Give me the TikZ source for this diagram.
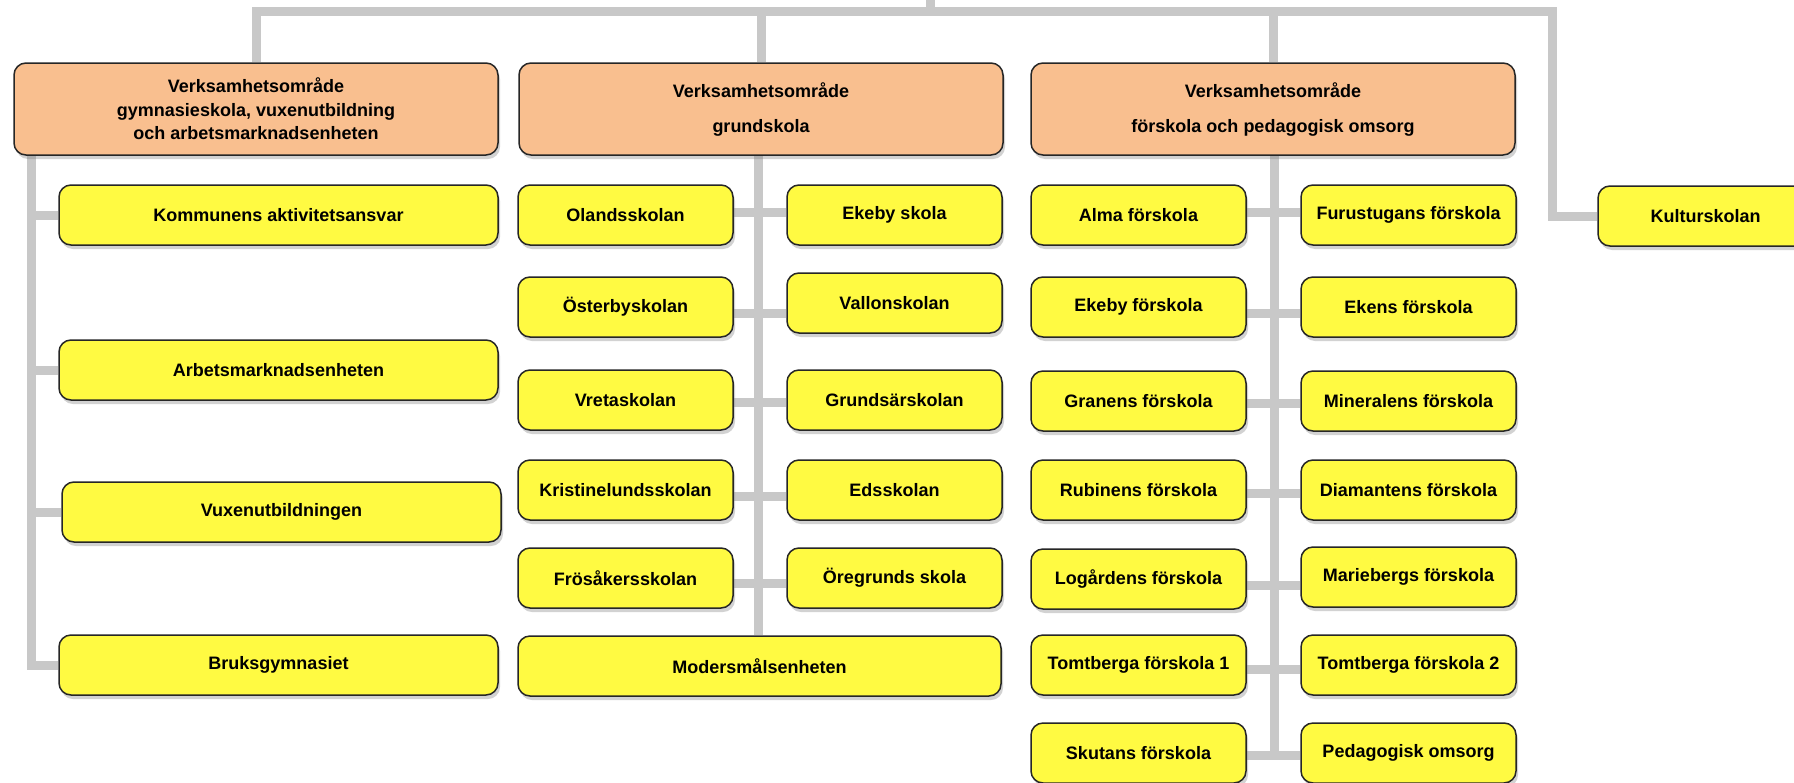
\documentclass[tikz,border=0pt]{standalone}
\usepackage{fontspec}
\setmainfont{Liberation Sans}
\usetikzlibrary{shadows,backgrounds}

\definecolor{areaorange}{RGB}{249,191,143}
\definecolor{unityellow}{RGB}{255,250,66}
\definecolor{linkgray}{RGB}{200,200,200}

\tikzset{
    box/.style={draw=black!85, line width=1.5pt, rounded corners=12pt,
        inner sep=0pt, align=center,
        font=\fontsize{18}{23.5}\selectfont\bfseries,
        drop shadow={shadow xshift=2pt, shadow yshift=-4pt, opacity=0.35}},
    area/.style={box, fill=areaorange, minimum width=484pt, minimum height=92pt},
    unit/.style={box, fill=unityellow, minimum width=215pt, minimum height=60pt},
    wideunit/.style={unit, minimum width=439pt},
    link/.style={draw=linkgray, line width=9pt}
}

\begin{document}
\begin{tikzpicture}[x=1pt, y=-1pt]
            \useasboundingbox (0,0) rectangle (1794,782);

            % verksamhetsomraden
            \node[area] (areaA) at (256,109) {Verksamhetsområde\\
                gymnasieskola, vuxenutbildning\\
                och arbetsmarknadsenheten};
            \node[area] (areaB) at (761,109) {Verksamhetsområde\\[11.5pt] grundskola};
            \node[area] (areaC) at (1273,109) {Verksamhetsområde\\[11.5pt] förskola och pedagogisk omsorg};

            % gymnasieskola, vuxenutbildning
            \node[wideunit] (kommun) at (278.5,215) {Kommunens aktivitetsansvar};
            \node[wideunit] (arbets) at (278.5,370) {Arbetsmarknadsenheten};
            \node[wideunit] (vuxen) at (281.5,512) {Vuxenutbildningen};
            \node[wideunit] (bruks) at (278.5,665) {Bruksgymnasiet};

            % grundskola
            \node[unit] (olands) at (625.5,215) {Olandsskolan};
            \node[unit] (ekebysk) at (894.5,215) {Ekeby skola};
            \node[unit] (oster) at (625.5,307) {Österbyskolan};
            \node[unit] (vallon) at (894.5,303) {Vallonskolan};
            \node[unit] (vreta) at (625.5,400) {Vretaskolan};
            \node[unit] (grundsar) at (894.5,400) {Grundsärskolan};
            \node[unit] (kristine) at (625.5,490) {Kristinelundsskolan};
            \node[unit] (eds) at (894.5,490) {Edsskolan};
            \node[unit] (frosaker) at (625.5,578) {Frösåkersskolan};
            \node[unit] (oregrund) at (894.5,578) {Öregrunds skola};
            \node[unit, minimum width=483pt] (modersmal) at (759.5,666) {Modersmålsenheten};

            % forskola
            \node[unit] (alma) at (1138.5,215) {Alma förskola};
            \node[unit] (furu) at (1408.5,215) {Furustugans förskola};
            \node[unit] (ekebyf) at (1138.5,307) {Ekeby förskola};
            \node[unit] (ekens) at (1408.5,307) {Ekens förskola};
            \node[unit] (granens) at (1138.5,401) {Granens förskola};
            \node[unit] (mineral) at (1408.5,401) {Mineralens förskola};
            \node[unit] (rubin) at (1138.5,490) {Rubinens förskola};
            \node[unit] (diamant) at (1408.5,490) {Diamantens förskola};
            \node[unit] (logard) at (1138.5,579) {Logårdens förskola};
            \node[unit] (marie) at (1408.5,577) {Mariebergs förskola};
            \node[unit] (tomt1) at (1138.5,665) {Tomtberga förskola 1};
            \node[unit] (tomt2) at (1408.5,665) {Tomtberga förskola 2};
            \node[unit] (skutan) at (1138.5,753) {Skutans förskola};
            \node[unit] (pedag) at (1408.5,753) {Pedagogisk omsorg};

            \node[unit] (kultur) at (1705.5,216) {Kulturskolan};

            \coordinate (top) at (930,0);
            \coordinate (bar) at (930,11.5);
            \coordinate (kbend) at (1552,11.5);
            \coordinate (lspine) at (31,155);
            \coordinate (mspine) at (758,155);
            \coordinate (rspine) at (1274,155);

            \begin{scope}[on background layer]
                \fill[white] (0,0) rectangle (1794,782);
                % top bar
                \draw[link] (top) -- (bar);
                \draw[link] (areaA.north) |- (kbend) -- (kultur.west -| kbend) -- (kultur.west);
                \draw[link] (areaB.north) -- (areaB.north |- bar);
                \draw[link] (areaC.north) -- (areaC.north |- bar);
                % left
                \draw[link] (lspine) |- (bruks.west);
                \draw[link] (lspine |- kommun.west) -- (kommun.west);
                \draw[link] (lspine |- arbets.west) -- (arbets.west);
                \draw[link] (lspine |- vuxen.west) -- (vuxen.west);
                % middle
                \draw[link] (mspine) -- (mspine |- modersmal.north);
                \draw[link] ([yshift=3pt]olands.east) -- ([yshift=3pt]ekebysk.west);
                \draw[link] ([yshift=-6pt]oster.east) -- ([yshift=-10pt]vallon.west);
                \draw[link] ([yshift=-2pt]vreta.east) -- ([yshift=-2pt]grundsar.west);
                \draw[link] ([yshift=-6pt]kristine.east) -- ([yshift=-6pt]eds.west);
                \draw[link] ([yshift=-5pt]frosaker.east) -- ([yshift=-5pt]oregrund.west);
                % right
                \draw[link] (rspine) -- (rspine |- skutan.east);
                \draw[link] ([yshift=3pt]alma.east) -- ([yshift=3pt]furu.west);
                \draw[link] ([yshift=-6pt]ekebyf.east) -- ([yshift=-6pt]ekens.west);
                \draw[link] ([yshift=-2pt]granens.east) -- ([yshift=-2pt]mineral.west);
                \draw[link] ([yshift=-3pt]rubin.east) -- ([yshift=-3pt]diamant.west);
                \draw[link] ([yshift=-6pt]logard.east) -- ([yshift=-8pt]marie.west);
                \draw[link] ([yshift=-4pt]tomt1.east) -- ([yshift=-4pt]tomt2.west);
                \draw[link] ([yshift=-2pt]skutan.east) -- ([yshift=-2pt]pedag.west);
            \end{scope}
        \end{tikzpicture}
\end{document}
